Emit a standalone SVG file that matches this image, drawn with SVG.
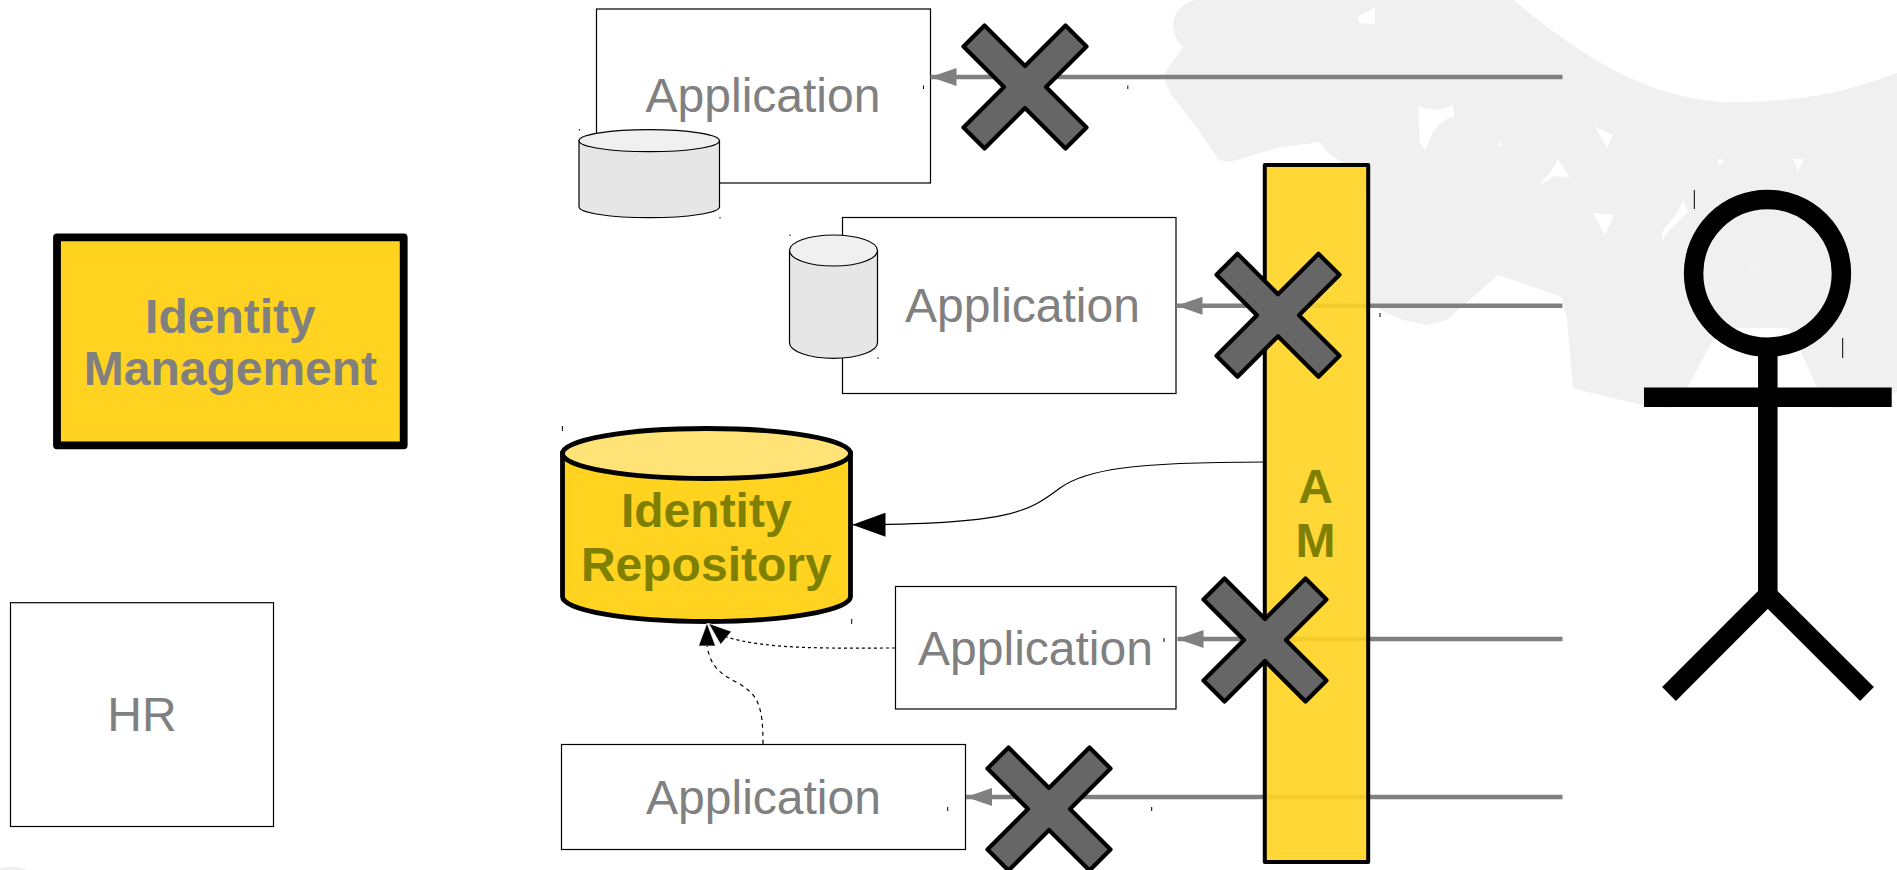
<svg xmlns="http://www.w3.org/2000/svg" width="1897" height="870" viewBox="0 0 1897 870">
<style>
text{font-family:"Liberation Sans",Arial,sans-serif;font-size:48px;text-anchor:middle}
.g{fill:#808080}
.o{fill:#808000;font-weight:bold}
.gb{fill:#808080;font-weight:bold}
.box{fill:#fff;stroke:#000;stroke-width:1.2}
.cyl{fill:#e6e6e6;stroke:#000;stroke-width:1.2}
.cap{fill:#f0f0f0;stroke:#000;stroke-width:1.2}
.block{stroke:#808080;stroke-width:4.4;fill:none;marker-end:url(#ga)}
.thin{stroke:#000;fill:none;stroke-width:1.2}
.tick{stroke:#000;stroke-width:1;fill:none}
.actor{stroke:#000;stroke-width:19.5;fill:none}
</style>
<defs>
<marker id="ga" markerUnits="userSpaceOnUse" markerWidth="27" markerHeight="20" refX="26" refY="10" orient="auto"><path d="M26 10 0 1V19Z" fill="#808080"/></marker>
<marker id="ba" markerUnits="userSpaceOnUse" markerWidth="33" markerHeight="24" refX="33" refY="12" orient="auto"><path d="M33 12 0 0V24Z" fill="#000"/></marker>
<marker id="sa" markerUnits="userSpaceOnUse" markerWidth="24" markerHeight="20" refX="23" refY="10" orient="auto"><path d="M23 10 0 1.5V18.5Z" fill="#000" stroke="#fff" stroke-width=".7"/></marker>
<path id="x" d="M0-21 40.5-61.5 61.5-40.5 21 0 61.5 40.5 40.5 61.5 0 21-40.5 61.5-61.5 40.5-21 0-61.5-40.5-40.5-61.5Z" fill="#666" stroke="#000" stroke-width="4.2" stroke-linejoin="round"/>
</defs>
<rect width="1897" height="870" fill="#fff"/>
<g id="watermark" fill="#f0f0f0" fill-rule="evenodd">
<path d="M1195 0C1180 4 1172 16 1173 27C1174 36 1178 43 1183 47L1163 75L1170 93L1200 132L1218 159C1224 162 1228 162 1233 161L1277 148L1320 142L1327 152L1345 165L1370 190L1363 213L1347 263L1353 293L1380 310L1403 320L1427 325L1447 320L1498 275L1533 287L1562 297L1567 320L1573 388L1600 395L1643 405L1670 408L1687 388L1713 340C1720 332 1730 328 1743 328H1787C1793 332 1796 340 1800 350L1817 387L1833 408L1850 407L1897 392V73C1840 95 1790 102 1733 102C1660 102 1590 65 1514 0Z
M1375 7 1358 17 1360 23 1375 24Z
M1418 106C1430 111 1442 111 1453 105L1454 117C1445 118 1439 124 1433 132L1425 150 1420 143Z
M1500 141 1497 146 1501 146Z
M1595 127 1613 135 1607 148Z
M1558 159 1570 178 1555 176 1542 184 1540 182 1550 173Z
M1593 213 1614 215 1605 235Z
M1717 159 1724 160 1720 166Z
M1793 159 1804 159 1798 171Z
M1683 200 1688 212 1670 230 1662 240 1662 232 1677 213Z"/>
<path d="M1748 270 1763 271 1755 265Z" fill="#f3f3f3"/>
<path d="M0 868Q12 864 27 870H0Z"/>
</g>
<g id="identity-management"><rect x="57" y="237.3" width="346.7" height="208" fill="#ffd320" stroke="#000" stroke-width="7.8" stroke-linejoin="round"/><text class="gb" x="230.4" y="332.5">Identity</text><text class="gb" x="230.4" y="385">Management</text></g>
<g id="hr"><rect class="box" x="10.5" y="602.7" width="263" height="223.8"/><text class="g" x="142" y="731">HR</text></g>
<g id="application-1"><rect class="box" x="596.5" y="9" width="334" height="174"/><text class="g" x="763" y="112">Application</text></g>
<g id="database-1"><path class="cyl" d="M579 140.7V206.7A70.2 11 0 0 0 719.5 206.7V140.7Z"/><ellipse class="cap" cx="649.2" cy="140.7" rx="70.2" ry="11"/></g>
<g id="application-2"><rect class="box" x="842.5" y="217.5" width="333.5" height="176"/><text class="g" x="1022.5" y="322">Application</text></g>
<g id="database-2"><path class="cyl" d="M789.5 250.5V342.8A44 15.5 0 0 0 877.5 342.8V250.5Z"/><ellipse class="cap" cx="833.5" cy="250.5" rx="44" ry="15.5"/></g>
<g id="identity-repository"><path d="M562.5 453.5V596.5A144 25 0 0 0 850.5 596.5V453.5Z" fill="#ffd320" stroke="#000" stroke-width="4.8"/><ellipse cx="706.5" cy="453.5" rx="144" ry="25" fill="#ffe377" stroke="#000" stroke-width="4.8"/><text class="o" x="706.3" y="527">Identity</text><text class="o" x="706.3" y="581">Repository</text></g>
<g id="application-3"><rect class="box" x="895.5" y="586.5" width="280.5" height="122.5"/><text class="g" x="1035.5" y="665">Application</text></g>
<g id="application-4"><rect class="box" x="561.5" y="744.5" width="404" height="105"/><text class="g" x="763.5" y="814">Application</text></g>
<g id="connectors">
<path class="block" d="M1562.5 77H930.5"/>
<path class="block" d="M1562.5 305.7H1176.5"/>
<path class="block" d="M1562.5 639H1177.5"/>
<path class="block" d="M1562.5 797H966"/>
<path class="thin" marker-end="url(#ba)" d="M1264 462C1130 462 1085 470 1060 488C1030 510 1015 524.7 852.5 524.7"/>
<path class="thin" stroke-dasharray="3 3" marker-end="url(#sa)" d="M895 648C830 648 765 650 723.7 636L708.4 623.3"/>
<path class="thin" stroke-dasharray="4 4" marker-end="url(#sa)" d="M763 744C763 705 758 695 738 683C718 673 710 665 707 645L707 623"/>
</g>
<g id="am"><rect x="1264.8" y="165" width="103.4" height="697" fill="#ffd320" fill-opacity=".9" stroke="#000" stroke-width="4" stroke-linejoin="round"/><text class="o" x="1315.5" y="503">A</text><text class="o" x="1315.5" y="556.5">M</text></g>
<g id="block-1"><use href="#x" x="1025" y="87"/></g>
<g id="block-2"><use href="#x" x="1278" y="315.3"/></g>
<g id="block-3"><use href="#x" x="1265" y="640"/></g>
<g id="block-4"><use href="#x" x="1049" y="809"/></g>
<g id="actor" class="actor"><circle cx="1767.5" cy="273.3" r="73.9"/><path d="M1767.8 350V595"/><path d="M1644 397.2H1891.7"/><path d="M1669 694 1767.8 595 1867 694"/></g>
<g id="marks" class="tick"><path d="M923.5 85.5V89M1127.8 85.5V89M579.4 129V130.5M720 217V218.5M790 234.5V236M878 357.5V359M1380 313V317M1694.3 190V209M1842.7 338V358M562.4 426V431M851.7 619V624M1164 638V642M947.7 807V811M1151.7 807V811"/></g>
</svg>
